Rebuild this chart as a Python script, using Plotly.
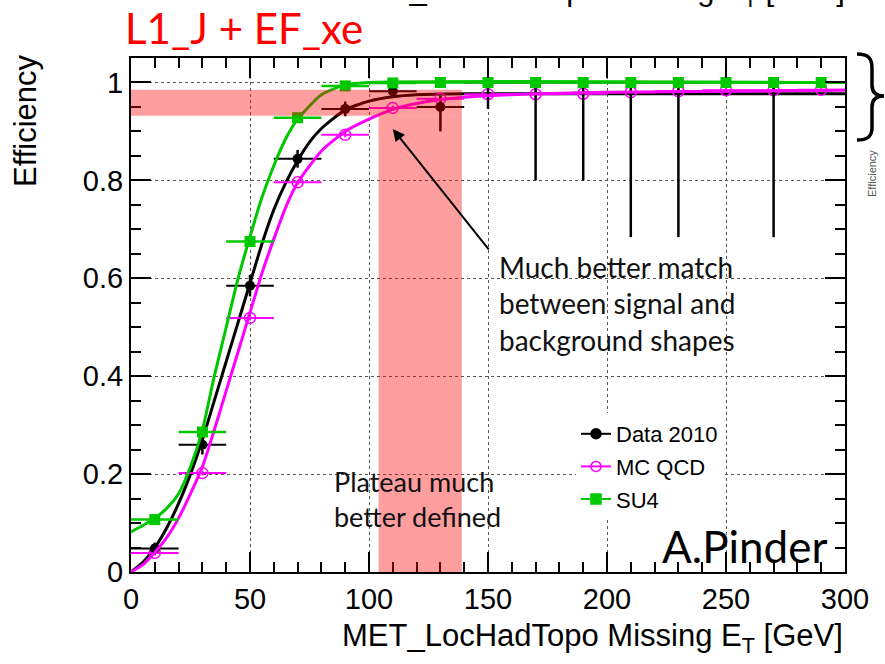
import plotly.graph_objects as go

# ---------------- data ----------------
bin_x = [10, 30, 50, 70, 90, 110, 130, 150, 170, 190, 210, 230, 250, 270, 290]
bin_halfwidth = [10] * len(bin_x)

data_x = [10, 30, 50, 70, 90, 110, 130, 150, 170, 190, 210, 230, 270]
data_eff = [0.048, 0.26, 0.585, 0.844, 0.946, 0.982, 0.95, 1.0, 1.0, 1.0, 1.0, 1.0, 1.0]
data_err_lo = [0.012, 0.02, 0.022, 0.018, 0.015, 0.012, 0.05, 0.054, 0.2, 0.2, 0.316, 0.316, 0.316]
data_err_hi = [0.012, 0.02, 0.022, 0.018, 0.015, 0.012, 0.023, 0.0, 0.0, 0.0, 0.0, 0.0, 0.0]

mc_eff = [0.039, 0.202, 0.519, 0.796, 0.893, 0.948, 0.967, 0.976, 0.976, 0.977, 0.98, 0.982, 0.984, 0.984, 0.985]
su4_eff = [0.107, 0.286, 0.675, 0.928, 0.993, 0.999, 1.0, 1.0, 1.0, 1.0, 1.0, 1.0, 1.0, 1.0, 1.0]

# fitted turn-on curves
fit_data_x = [0, 5, 10, 15, 20, 25, 30, 35, 40, 45, 50, 55, 60, 65, 70, 75, 80, 90, 100, 110, 120, 140, 300]
fit_data_y = [0.0, 0.02, 0.05, 0.09, 0.14, 0.2, 0.27, 0.35, 0.43, 0.51, 0.59, 0.67, 0.74, 0.795, 0.84, 0.878, 0.906, 0.944, 0.962, 0.971, 0.975, 0.977, 0.977]
fit_mc_x = [0, 5, 10, 15, 20, 25, 30, 35, 40, 45, 50, 55, 60, 65, 70, 80, 90, 100, 110, 120, 130, 150, 200, 300]
fit_mc_y = [0.0, 0.015, 0.04, 0.07, 0.11, 0.16, 0.215, 0.29, 0.37, 0.45, 0.53, 0.61, 0.68, 0.745, 0.795, 0.86, 0.9, 0.925, 0.945, 0.957, 0.965, 0.973, 0.98, 0.984]
fit_su4_x = [0, 5, 10, 15, 20, 25, 30, 35, 40, 45, 50, 55, 60, 65, 70, 80, 90, 100, 300]
fit_su4_y = [0.082, 0.095, 0.11, 0.13, 0.16, 0.215, 0.29, 0.4, 0.5, 0.6, 0.685, 0.765, 0.83, 0.885, 0.925, 0.975, 0.995, 1.0, 1.0]

x_ticks = [0, 50, 100, 150, 200, 250, 300]
y_ticks = [0, 0.2, 0.4, 0.6, 0.8, 1.0]
y_ticktext = ["0", "0.2", "0.4", "0.6", "0.8", "1"]

# highlighted plateau regions
band_h = dict(x0=0, x1=139, y0=0.932, y1=0.985)
band_v = dict(x0=104, x1=139, y0=0.0, y1=0.932)

BLACK = "#000000"
MAGENTA = "#FF00FF"
GREEN = "#00C800"
AX_FONT = "Liberation Sans, Arial, sans-serif"
TXT_FONT = "Lato, Open Sans, sans-serif"

W, H = 885, 664
ML, MR, MT, MB = 131, 40, 58, 92

fig = go.Figure()

fig.add_trace(go.Scatter(x=fit_data_x, y=fit_data_y, mode="lines", line=dict(color=BLACK, width=3, shape="spline", smoothing=0.6), showlegend=False, hoverinfo="skip"))
fig.add_trace(go.Scatter(x=bin_x, y=mc_eff, mode="markers", marker=dict(symbol="circle-open", size=11, color=MAGENTA, line=dict(width=1.5)),
                         error_x=dict(type="data", array=bin_halfwidth, color=MAGENTA, thickness=2, width=0),
                         error_y=dict(type="data", array=[0.005] * len(bin_x), color=MAGENTA, thickness=2, width=0), showlegend=False))
fig.add_trace(go.Scatter(x=data_x, y=data_eff, mode="markers", marker=dict(symbol="circle", size=10, color=BLACK),
                         error_x=dict(type="data", array=[10] * len(data_x), color=BLACK, thickness=2, width=0),
                         error_y=dict(type="data", symmetric=False, array=data_err_hi, arrayminus=data_err_lo, color=BLACK, thickness=2.5, width=0), showlegend=False))
fig.add_trace(go.Scatter(x=fit_mc_x, y=fit_mc_y, mode="lines", line=dict(color=MAGENTA, width=3, shape="spline", smoothing=0.6), showlegend=False, hoverinfo="skip"))
fig.add_trace(go.Scatter(x=fit_su4_x, y=fit_su4_y, mode="lines", line=dict(color=GREEN, width=3, shape="spline", smoothing=0.6), showlegend=False, hoverinfo="skip"))
fig.add_trace(go.Scatter(x=bin_x, y=su4_eff, mode="markers", marker=dict(symbol="square", size=11, color=GREEN),
                         error_x=dict(type="data", array=bin_halfwidth, color=GREEN, thickness=2.5, width=0), showlegend=False))

for name, col, sym, grp in [("Data 2010", BLACK, "circle", "a"), ("MC QCD", MAGENTA, "circle-open", "b"), ("SU4", GREEN, "square", "c")]:
    fig.add_trace(go.Scatter(x=[None], y=[None], mode="lines+markers", name=name, legendgroup=grp,
                             line=dict(color=col, width=2), marker=dict(symbol=sym, size=10, color=col, line=dict(width=1.5, color=col))))

for b in (band_h, band_v):
    fig.add_shape(type="rect", xref="x", yref="y", layer="above", line=dict(width=0),
                  fillcolor="rgba(255,0,0,0.38)", **b)

def pp(px, py):
    return f"{(px - ML) / (W - ML - MR):.5f},{(H - MB - py) / (H - MT - MB):.5f}"

brace = (f"M {pp(857,54)} C {pp(868,54)} {pp(872,58)} {pp(872,68)} L {pp(872,85)} "
         f"C {pp(872,92)} {pp(876,96)} {pp(884,96)} C {pp(876,96)} {pp(872,100)} {pp(872,107)} "
         f"L {pp(872,128)} C {pp(872,136)} {pp(868,140)} {pp(857,140)}")
fig.add_shape(type="path", xref="paper", yref="paper", path=brace, line=dict(color=BLACK, width=3.5))

def px2paper(px, py):
    return (px - ML) / (W - ML - MR), (H - MB - py) / (H - MT - MB)

ann = []
xt = "MET_LocHadTopo Missing E<sub>T</sub> [GeV]"
ann.append(dict(text=xt, xref="paper", yref="paper", x=1.0, y=px2paper(0, 638)[1], xanchor="right", yanchor="middle",
                showarrow=False, font=dict(family=AX_FONT, size=31, color=BLACK)))
ann.append(dict(text=xt, xref="paper", yref="paper", x=px2paper(847, 0)[0], y=px2paper(0, -8)[1], xanchor="right", yanchor="middle",
                showarrow=False, font=dict(family=AX_FONT, size=31, color=BLACK)))
ann.append(dict(text="Efficiency", xref="paper", yref="paper", x=px2paper(25, 0)[0], y=px2paper(0, 121)[1], xanchor="center", yanchor="middle",
                textangle=-90, showarrow=False, font=dict(family=AX_FONT, size=31, color=BLACK)))
ann.append(dict(text="Efficiency", xref="paper", yref="paper", x=px2paper(872, 0)[0], y=px2paper(0, 174)[1], xanchor="center", yanchor="middle",
                textangle=-90, showarrow=False, font=dict(family=AX_FONT, size=11, color="#555555")))
ann.append(dict(text="L1_J + EF_xe", xref="paper", yref="paper", x=px2paper(123, 0)[0], y=px2paper(0, 28)[1], xanchor="left", yanchor="middle",
                showarrow=False, font=dict(family=TXT_FONT, size=42, color="#FF0000")))
ann.append(dict(text="Much better match<br>between signal and<br>background shapes", xref="paper", yref="paper",
                x=px2paper(497, 0)[0], y=px2paper(0, 303)[1], xanchor="left", yanchor="middle", align="left",
                showarrow=False, font=dict(family=TXT_FONT, size=28, color="#111111")))
ann.append(dict(text="Plateau much<br>better defined", xref="paper", yref="paper",
                x=px2paper(332, 0)[0], y=px2paper(0, 499)[1], xanchor="left", yanchor="middle", align="left",
                showarrow=False, font=dict(family=TXT_FONT, size=27, color="#111111")))
ann.append(dict(text="A.Pinder", xref="paper", yref="paper", x=px2paper(829, 0)[0], y=px2paper(0, 546)[1], xanchor="right", yanchor="middle",
                showarrow=False, font=dict(family=TXT_FONT, size=44, color=BLACK)))
ann.append(dict(x=110, y=0.905, ax=150.8, ay=0.656, xref="x", yref="y", axref="x", ayref="y", text="",
                showarrow=True, arrowhead=2, arrowsize=1.2, arrowwidth=2, arrowcolor=BLACK))

axis_common = dict(showline=True, linecolor=BLACK, linewidth=2, mirror="ticks", ticks="inside", tickcolor=BLACK,
                   tickwidth=2, ticklen=20, showgrid=True, gridcolor="#555555", griddash="dot", gridwidth=1,
                   zeroline=False, tickfont=dict(family=AX_FONT, size=29, color=BLACK))

fig.update_layout(
    width=W, height=H, margin=dict(l=ML, r=MR, t=MT, b=MB),
    paper_bgcolor="white", plot_bgcolor="white",
    xaxis=dict(range=[0, 300], tickvals=x_ticks, ticktext=[str(v) for v in x_ticks],
               minor=dict(dtick=10, ticks="inside", ticklen=10, tickcolor=BLACK, tickwidth=1.5, showgrid=False),
               ticklabelstandoff=0, **axis_common),
    yaxis=dict(range=[0, 1.05], tickvals=y_ticks, ticktext=y_ticktext,
               minor=dict(dtick=0.05, ticks="inside", ticklen=10, tickcolor=BLACK, tickwidth=1.5, showgrid=False),
               **axis_common),
    legend=dict(x=px2paper(576, 0)[0], y=px2paper(0, 413)[1], xanchor="left", yanchor="top",
                bgcolor="white", borderwidth=0, font=dict(family=AX_FONT, size=22, color=BLACK),
                traceorder="grouped", tracegroupgap=1, itemwidth=30),
    annotations=ann,
    showlegend=True,
)

fig.write_html("out.html")
